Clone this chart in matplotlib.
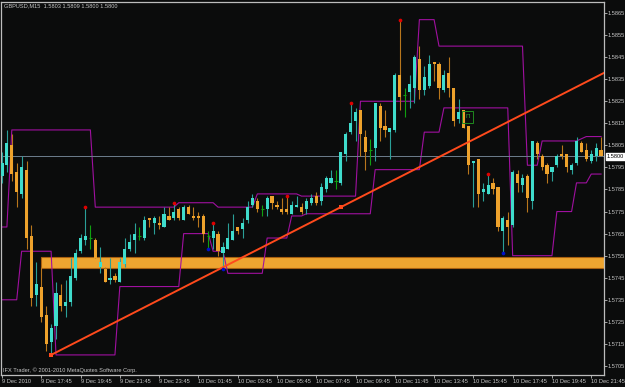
"""
GBPUSD M15 candlestick chart in MetaTrader style
"""

import numpy as np
import matplotlib
matplotlib.use('Agg')
import matplotlib.pyplot as plt
import matplotlib.transforms as mtransforms
from matplotlib.patches import Rectangle

plt.rcParams.update({
    'font.family': 'Liberation Sans',
    'font.size': 4.1,
    'figure.dpi': 100,
    'savefig.dpi': 100,
})

SYMBOL = 'GBPUSD,M15'

# OHLC per 15-minute bar (bar 0 = 9 Dec 15:45)
opens = [1.5791, 1.5796, 1.5805, 1.5793, 1.5783, 1.5794, 1.5764, 1.5737, 1.5741, 1.5728,
         1.5716, 1.5723, 1.5737, 1.5732, 1.5734, 1.5745, 1.5757, 1.5762, 1.5763, 1.5762,
         1.5750, 1.5749, 1.5744, 1.5746, 1.5743, 1.5751, 1.5758, 1.5762, 1.5764, 1.5763,
         1.5772, 1.5770, 1.5770, 1.5768, 1.5773, 1.5772, 1.5776, 1.5771, 1.5777, 1.5773,
         1.5773, 1.5773, 1.5764, 1.5763, 1.5765, 1.5756, 1.5758, 1.5762, 1.5768, 1.5767,
         1.5771, 1.5778, 1.5780, 1.5776, 1.5776, 1.5782, 1.5778, 1.5776, 1.5776, 1.5774,
         1.5777, 1.5777, 1.5776, 1.5779, 1.5782, 1.5780, 1.5785, 1.5788, 1.5789, 1.5788,
         1.5801, 1.5811, 1.5816, 1.5821, 1.5809, 1.5803, 1.5804, 1.5823, 1.5814, 1.5811,
         1.5812, 1.5837, 1.5828, 1.5829, 1.5831, 1.5844, 1.5830, 1.5832, 1.5843, 1.5842,
         1.5830, 1.5838, 1.5831, 1.5817, 1.5821, 1.5814, 1.5797, 1.5799, 1.5784, 1.5783,
         1.5788, 1.5786, 1.5766, 1.5771, 1.5769, 1.5792, 1.5787, 1.5791, 1.5780, 1.5806,
         1.5800, 1.5796, 1.5793, 1.5796, 1.5801, 1.5801, 1.5794, 1.5797, 1.5806, 1.5803,
         1.5798, 1.5800, 1.5803]
highs = [1.5802, 1.5812, 1.5810, 1.5797, 1.5800, 1.5798, 1.5769, 1.5752, 1.5750, 1.5732,
         1.5724, 1.5743, 1.5742, 1.5744, 1.5754, 1.5758, 1.5765, 1.5777, 1.5769, 1.5763,
         1.5759, 1.5750, 1.5754, 1.5747, 1.5754, 1.5763, 1.5765, 1.5770, 1.5768, 1.5773,
         1.5772, 1.5773, 1.5773, 1.5777, 1.5777, 1.5779, 1.5777, 1.5778, 1.5778, 1.5777,
         1.5775, 1.5774, 1.5766, 1.5770, 1.5766, 1.5761, 1.5770, 1.5774, 1.5768, 1.5772,
         1.5780, 1.5783, 1.5781, 1.5778, 1.5782, 1.5782, 1.5780, 1.5781, 1.5782, 1.5780,
         1.5782, 1.5779, 1.5781, 1.5783, 1.5784, 1.5788, 1.5791, 1.5794, 1.5794, 1.5802,
         1.5811, 1.5824, 1.5822, 1.5821, 1.5812, 1.5808, 1.5824, 1.5824, 1.5821, 1.5813,
         1.5838, 1.5862, 1.5831, 1.5837, 1.5846, 1.5850, 1.5841, 1.5846, 1.5843, 1.5843,
         1.5839, 1.5845, 1.5831, 1.5826, 1.5821, 1.5814, 1.5798, 1.5799, 1.5788, 1.5792,
         1.5790, 1.5786, 1.5773, 1.5775, 1.5794, 1.5794, 1.5792, 1.5792, 1.5807, 1.5807,
         1.5801, 1.5797, 1.5795, 1.5801, 1.5805, 1.5801, 1.5797, 1.5809, 1.5807, 1.5806,
         1.5803, 1.5806, 1.5809]
lows = [1.5788, 1.5793, 1.5789, 1.5777, 1.5781, 1.5758, 1.5732, 1.5732, 1.5725, 1.5712,
        1.5710, 1.5717, 1.5730, 1.5727, 1.5732, 1.5744, 1.5756, 1.5760, 1.5758, 1.5754,
        1.5747, 1.5743, 1.5742, 1.5743, 1.5743, 1.5750, 1.5757, 1.5756, 1.5762, 1.5762,
        1.5768, 1.5765, 1.5767, 1.5768, 1.5771, 1.5771, 1.5771, 1.5771, 1.5774, 1.5771,
        1.5768, 1.5761, 1.5758, 1.5758, 1.5755, 1.5749, 1.5758, 1.5762, 1.5765, 1.5763,
        1.5770, 1.5777, 1.5775, 1.5773, 1.5773, 1.5776, 1.5776, 1.5774, 1.5774, 1.5774,
        1.5777, 1.5774, 1.5774, 1.5778, 1.5778, 1.5778, 1.5784, 1.5788, 1.5785, 1.5787,
        1.5798, 1.5810, 1.5807, 1.5800, 1.5794, 1.5796, 1.5798, 1.5807, 1.5809, 1.5799,
        1.5811, 1.5821, 1.5818, 1.5822, 1.5824, 1.5826, 1.5828, 1.5831, 1.5834, 1.5826,
        1.5829, 1.5827, 1.5814, 1.5815, 1.5813, 1.5792, 1.5777, 1.5777, 1.5780, 1.5783,
        1.5783, 1.5766, 1.5756, 1.5760, 1.5768, 1.5784, 1.5784, 1.5775, 1.5776, 1.5799,
        1.5794, 1.5788, 1.5789, 1.5795, 1.5799, 1.5793, 1.5792, 1.5796, 1.5802, 1.5798,
        1.5797, 1.5798, 1.5800]
closes = [1.5797, 1.5806, 1.5792, 1.5784, 1.5795, 1.5763, 1.5736, 1.5742, 1.5727, 1.5715,
          1.5722, 1.5738, 1.5732, 1.5734, 1.5746, 1.5756, 1.5763, 1.5764, 1.5763, 1.5754,
          1.5752, 1.5743, 1.5745, 1.5744, 1.5752, 1.5758, 1.5761, 1.5765, 1.5764, 1.5771,
          1.5771, 1.5772, 1.5769, 1.5774, 1.5771, 1.5775, 1.5772, 1.5777, 1.5774, 1.5772,
          1.5772, 1.5765, 1.5764, 1.5766, 1.5757, 1.5759, 1.5763, 1.5766, 1.5766, 1.5770,
          1.5777, 1.5781, 1.5776, 1.5776, 1.5781, 1.5779, 1.5777, 1.5775, 1.5775, 1.5778,
          1.5778, 1.5775, 1.5780, 1.5781, 1.5779, 1.5786, 1.5790, 1.5790, 1.5789, 1.5802,
          1.5810, 1.5815, 1.5820, 1.5810, 1.5802, 1.5803, 1.5824, 1.5813, 1.5812, 1.5813,
          1.5837, 1.5827, 1.5828, 1.5833, 1.5845, 1.5830, 1.5836, 1.5842, 1.5842, 1.5831,
          1.5837, 1.5831, 1.5816, 1.5820, 1.5813, 1.5796, 1.5798, 1.5783, 1.5785, 1.5787,
          1.5785, 1.5768, 1.5772, 1.5768, 1.5793, 1.5788, 1.5790, 1.5781, 1.5807, 1.5801,
          1.5795, 1.5792, 1.5795, 1.5800, 1.5800, 1.5795, 1.5796, 1.5807, 1.5802, 1.5799,
          1.5801, 1.5804, 1.5800]

# price channel lines, read as (number of bars, level) steps
upper_steps = [(2, 1.5768), (17, 1.5812), (17, 1.5777), (8, 1.5779), (8, 1.5777),
               (9, 1.5783), (12, 1.5782), (12, 1.5825), (4, 1.5862), (18, 1.5850),
               (3, 1.5796), (8, 1.5807), (1, 1.5808), (4, 1.5809)]
lower_steps = [(4, 1.5735), (7, 1.5757), (13, 1.5710), (13, 1.5741), (6, 1.5765),
               (3, 1.5757), (8, 1.5747), (5, 1.5763), (3, 1.5773), (14, 1.5774),
               (10, 1.5794), (4, 1.5811), (14, 1.5822), (9, 1.5755), (4, 1.5775),
               (3, 1.5788), (3, 1.5792)]

# fractal markers
fractal_up = [17, 35, 43, 58, 71, 81, 99]
fractal_down = [42, 45, 102]

# trendline anchors (bar, price)
trend_anchors = [(10, 1.5710), (69, 1.5777)]

# support zone
zone_start = 8
zone_low, zone_high = 1.57494, 1.57544

# arrow object
icon_bar, icon_price = 94.8, 1.5818

# time axis
time_ticks = [0, 8, 16, 24, 32, 40, 48, 56, 64, 72, 80, 88, 96, 104, 112, 120]
time_labels = ['9 Dec 2010', '9 Dec 17:45', '9 Dec 19:45', '9 Dec 21:45', '9 Dec 23:45',
               '10 Dec 01:45', '10 Dec 03:45', '10 Dec 05:45', '10 Dec 07:45',
               '10 Dec 09:45', '10 Dec 11:45', '10 Dec 13:45', '10 Dec 15:45',
               '10 Dec 17:45', '10 Dec 19:45', '10 Dec 21:45']
price_ticks = [1.5705, 1.5715, 1.5725, 1.5735, 1.5745, 1.5755, 1.5765, 1.5775, 1.5785,
               1.5795, 1.5805, 1.5815, 1.5825, 1.5835, 1.5845, 1.5855, 1.5865]

BG = '#0b0c0c'
FG = '#c8c8c8'
BULL = '#3fdccc'
BEAR = '#eea22c'
DOJI = '#10a010'
CHANNEL = '#a010a0'


def expand(steps):
    return np.concatenate([np.full(n, v) for n, v in steps])


def main():
    fig = plt.figure(figsize=(6.25, 3.87), facecolor=BG)
    ax = fig.add_axes([1.5 / 625, 12 / 387, 602.5 / 625, 373 / 387], facecolor=BG)

    o = np.array(opens)
    h = np.array(highs)
    l = np.array(lows)
    c = np.array(closes)
    idx = np.arange(len(o))

    # zone
    ax.add_patch(Rectangle((zone_start, zone_low), 200, zone_high - zone_low,
                           facecolor='#eea530', edgecolor='#a86010', lw=0.8, zorder=1))

    # channel
    ax.plot(idx, expand(upper_steps), color=CHANNEL, lw=0.8, zorder=2)
    ax.plot(idx, expand(lower_steps), color=CHANNEL, lw=0.8, zorder=2)

    # candles
    bull = c > o
    bear = c < o
    doji = c == o
    ax.vlines(idx[bull], l[bull], h[bull], color='#2a9f98', lw=0.8, zorder=3)
    ax.vlines(idx[bear], l[bear], h[bear], color='#b8761c', lw=0.8, zorder=3)
    ax.vlines(idx[doji], l[doji], h[doji], color=DOJI, lw=0.8, zorder=3)
    ax.hlines(o[doji], idx[doji] - 0.35, idx[doji] + 0.35, color=DOJI, lw=0.8, zorder=3)
    ax.bar(idx[bull], c[bull] - o[bull], bottom=o[bull], width=0.64,
           color=BULL, lw=0, zorder=4)
    ax.bar(idx[bear], o[bear] - c[bear], bottom=c[bear], width=0.64,
           color=BEAR, lw=0, zorder=4)

    # bid line
    ax.axhline(c[-1], color='#6e7e8e', lw=0.7, zorder=2)

    # trendline (ray to the right)
    (b0, p0), (b1, p1) = trend_anchors
    slope = (p1 - p0) / (b1 - b0)
    ax.plot([b0, 130], [p0, p0 + slope * (130 - b0)], color='#ff4a1c', lw=1.4, zorder=5)
    ax.scatter([b0, b1], [p0, p1], marker='s', s=7, color='#ff4a1c', zorder=6, lw=0)

    # fractals
    ax.scatter(fractal_up, h[fractal_up], s=7, color='#e00000', zorder=6, lw=0)
    ax.scatter(fractal_down, l[fractal_down], s=7, color='#0010c8', zorder=6, lw=0)

    # arrow object
    ax.add_patch(Rectangle((icon_bar - 1.1, icon_price - 0.00028), 2.2, 0.00056,
                           facecolor='none', edgecolor='#1f8a1f', lw=0.7, zorder=6))
    ax.text(icon_bar, icon_price, 'Π', color='#2fb02f', fontsize=4.5,
            ha='center', va='center', zorder=7)

    ax.set_xlim(-0.1, 122.6)
    ax.set_ylim(1.57009, 1.58700)

    for s in ax.spines.values():
        s.set_color('#bdbdbd')
        s.set_linewidth(0.9)

    ax.yaxis.tick_right()
    ax.set_yticks(price_ticks)
    ax.set_yticklabels([f'{p:.4f}' for p in price_ticks])
    ax.set_xticks(time_ticks)
    ax.set_xticklabels(time_labels, ha='left')
    ax.tick_params(axis='both', colors='#bdbdbd', labelcolor=FG, length=2,
                   width=0.6, pad=0.8, labelsize=4.1)

    # bid label
    trans = mtransforms.blended_transform_factory(ax.transAxes, ax.transData)
    ax.text(1.0045, c[-1], f'{c[-1]:.4f}', transform=trans, color='black',
            fontsize=4.1, va='center', ha='left', zorder=8,
            bbox=dict(boxstyle='square,pad=0.2', facecolor='white', edgecolor='white'))

    fig.text(4 / 625, 1 - 6 / 387,
             f'{SYMBOL}  {o[-1]:.4f} {h[-1]:.4f} {l[-1]:.4f} {c[-1]:.4f}',
             color=FG, fontsize=4.1, va='center', ha='left')
    fig.text(3 / 625, 1 - 370 / 387,
             'IFX Trader, © 2001-2010 MetaQuotes Software Corp.',
             color=FG, fontsize=4.1, va='center', ha='left')

    fig.savefig('out.png', facecolor=BG)


if __name__ == '__main__':
    main()
